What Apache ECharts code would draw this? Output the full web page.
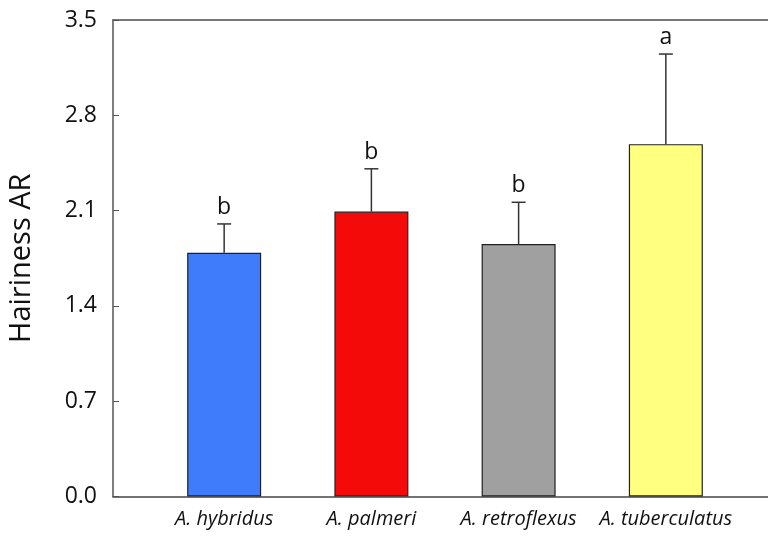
<!DOCTYPE html>
<html>
<head>
<meta charset="utf-8">
<script src="https://cdn.jsdelivr.net/npm/echarts@6/dist/echarts.min.js"></script>
<style>
  html, body { margin: 0; padding: 0; background: #fff; }
  #chart { width: 768px; height: 537px; }
</style>
</head>
<body>
<div id="chart"></div>
<script>
// Hairiness aspect ratio by Amaranthus species (mean + SD, letters = significance groups)
const species = ['A. hybridus', 'A. palmeri', 'A. retroflexus', 'A. tuberculatus'];
const means = [1.79, 2.093, 1.855, 2.588];
const errors = [0.212, 0.314, 0.306, 0.662];
const letters = ['b', 'b', 'b', 'a'];
const colors = ['#3f7cfb', '#f50a0a', '#a0a0a0', '#ffff80'];
const yTicks = [0, 0.7, 1.4, 2.1, 2.8, 3.5];

const chart = echarts.init(document.getElementById('chart'), null, { renderer: 'canvas' });

const barData = means.map((m, i) => ({
  value: [i + 1, m],
  itemStyle: { color: colors[i] }
}));
const errData = means.map((m, i) => [i + 1, m, m + errors[i], i]);

chart.setOption({
  animation: false,
  // the frame runs slightly past the right edge of the canvas
  grid: { left: 113, width: 664, top: 20, height: 476.5, outerBoundsMode: 'none', containLabel: false },
  xAxis: [
    {
      type: 'value',
      min: 0.245,
      max: 4.755,
      splitLine: { show: false },
      axisLine: { show: true, lineStyle: { color: '#444', width: 1.5 } },
      axisTick: { show: false },
      axisLabel: {
        customValues: [1, 2, 3, 4],
        formatter: v => species[Math.round(v) - 1] || '',
        fontFamily: 'Open Sans',
        fontStyle: 'italic',
        fontSize: 20,
        color: '#111',
        margin: 13
      }
    },
    {
      type: 'value',
      position: 'top',
      min: 0.245,
      max: 4.755,
      splitLine: { show: false },
      axisLine: { show: true, lineStyle: { color: '#777', width: 2 } },
      axisTick: { show: false },
      axisLabel: { show: false }
    }
  ],
  yAxis: {
    type: 'value',
    min: 0,
    max: 3.5,
    interval: 0.7,
    name: 'Hairiness AR',
    nameLocation: 'middle',
    nameGap: 77,
    nameTextStyle: { fontFamily: 'Open Sans', fontSize: 29, color: '#111' },
    splitLine: { show: false },
    axisLine: { show: true, lineStyle: { color: '#555', width: 1.5 } },
    axisTick: { show: true, inside: true, length: 6, lineStyle: { color: '#555' } },
    axisLabel: {
      fontFamily: 'Open Sans',
      fontSize: 23,
      color: '#111',
      margin: 16,
      formatter: v => {
        const t = yTicks.find(k => Math.abs(k - v) < 1e-6);
        return t === undefined ? '' : t.toFixed(1);
      }
    }
  },
  series: [
    {
      type: 'bar',
      xAxisIndex: 0,
      data: barData,
      barWidth: 74,
      itemStyle: { borderColor: '#222', borderWidth: 1.2 }
    },
    {
      type: 'custom',
      xAxisIndex: 0,
      data: errData,
      z: 5,
      renderItem: (params, api) => {
        const x = api.value(0);
        const base = api.coord([x, api.value(1)]);
        const top = api.coord([x, api.value(2)]);
        const idx = api.value(3);
        const half = 7;
        const style = { stroke: '#333', lineWidth: 1.5 };
        return {
          type: 'group',
          children: [
            { type: 'line', shape: { x1: base[0], y1: base[1], x2: top[0], y2: top[1] }, style },
            { type: 'line', shape: { x1: top[0] - half, y1: top[1], x2: top[0] + half, y2: top[1] }, style },
            {
              type: 'text',
              style: {
                text: letters[idx],
                x: top[0],
                y: top[1] - 5,
                align: 'center',
                verticalAlign: 'bottom',
                fontFamily: 'Open Sans',
                fontSize: 23,
                fill: '#111'
              }
            }
          ]
        };
      }
    }
  ]
});
</script>
</body>
</html>
